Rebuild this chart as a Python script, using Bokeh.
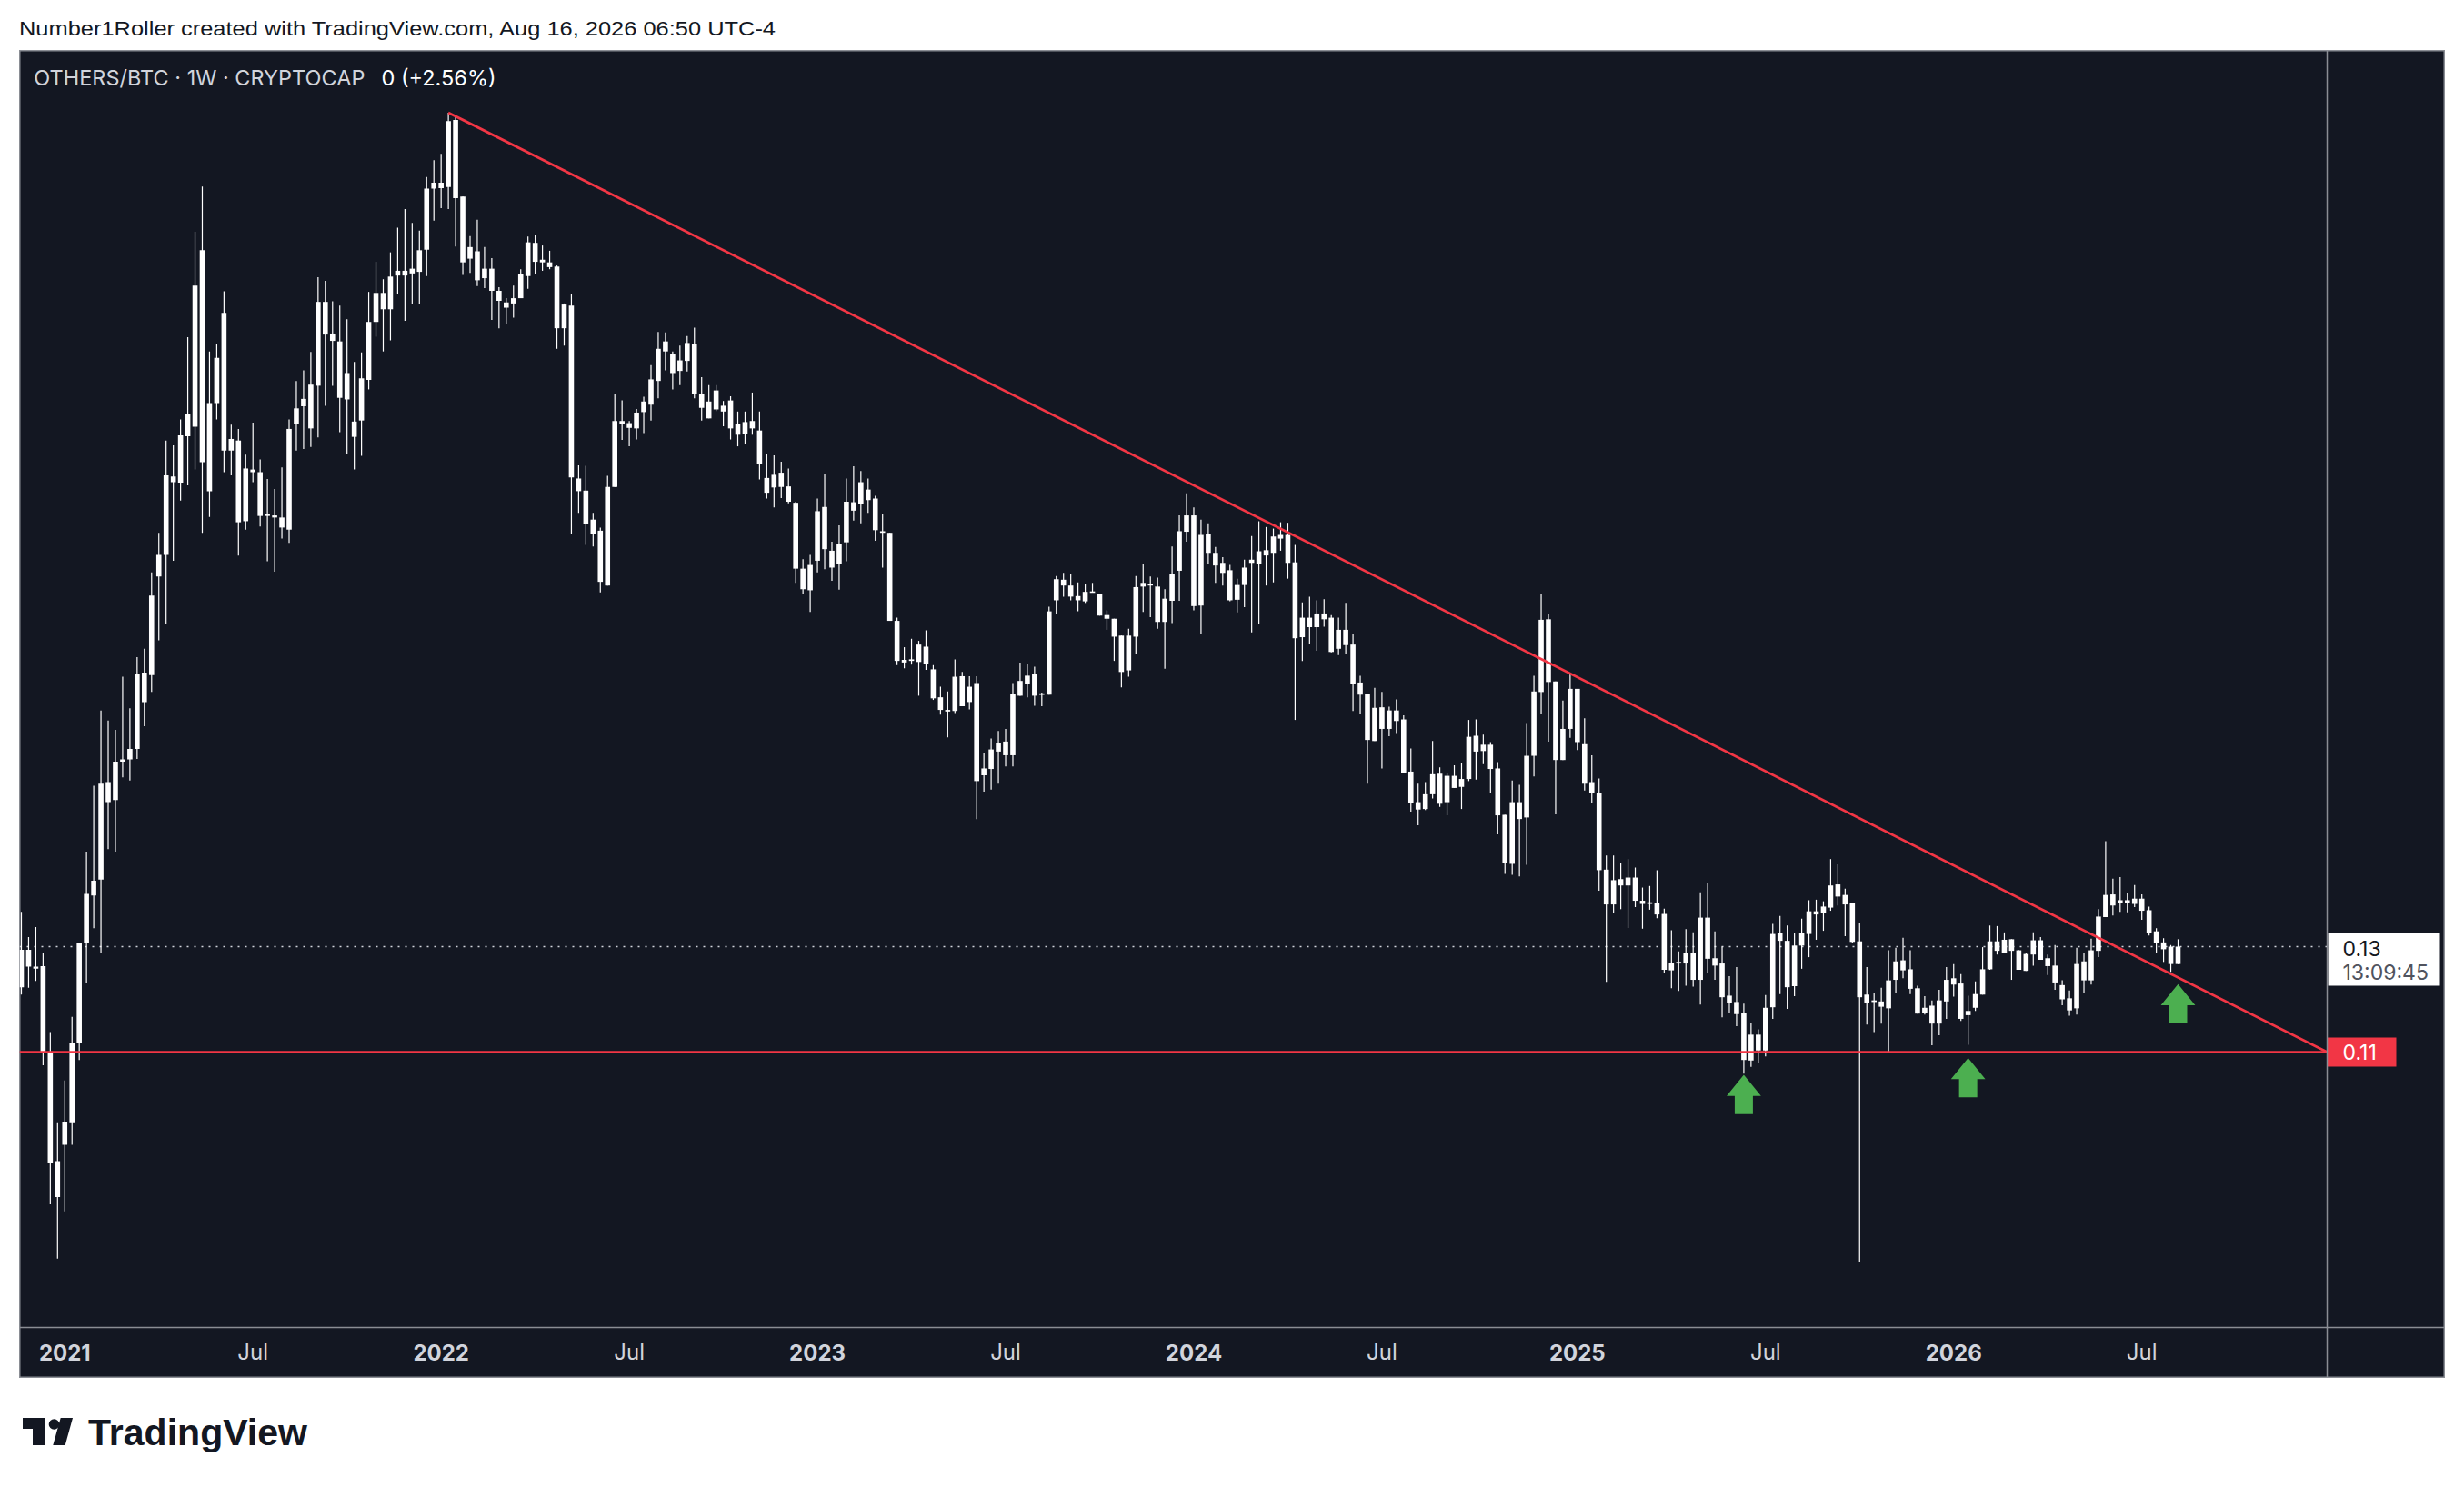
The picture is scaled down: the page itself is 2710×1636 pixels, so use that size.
import pandas as pd
from bokeh.plotting import figure
from bokeh.models import Range1d, Span, Div, ColumnDataSource
from bokeh.layouts import column
from bokeh.core.properties import value
from bokeh.embed import file_html
from bokeh.resources import INLINE

# ---------------- data (weekly OTHERS/BTC candles) ----------------
first_bar = "2020-11-23"

open_ = [
    .1223, .1294, .1262, .1263, .1098, .0893, .0924, .0967, .1118, .1306,
    .1397, .1427, .1612, .1578, .1651, .1655, .1675, .1820, .1815, .2002,
    .2043, .2192, .2180, .2268, .2286, .2621, .2164, .2331, .2502, .2241,
    .2260, .2107, .2205, .2200, .2117, .2118, .2114, .2091, .2291, .2325,
    .2366, .2364, .2523, .2463, .2448, .2338, .2296, .2298, .2375, .2485,
    .2540, .2509, .2573, .2582, .2577, .2580, .2622, .2738, .2749, .2741,
    .2868, .2723, .2605, .2619, .2568, .2586, .2544, .2522, .2520, .2530,
    .2572, .2635, .2598, .2598, .2590, .2473, .2516, .2188, .2165, .2110,
    .2089, .1985, .2172, .2297, .2293, .2283, .2314, .2328, .2373, .2429,
    .2424, .2392, .2411, .2444, .2349, .2334, .2319, .2326, .2336, .2291,
    .2272, .2297, .2279, .2189, .2171, .2199, .2173, .2142, .2017, .1976,
    .2032, .2134, .2051, .2025, .2067, .2143, .2140, .2167, .2150, .2088,
    .2085, .1918, .1844, .1842, .1840, .1869, .1826, .1773, .1749, .1747,
    .1813, .1764, .1800, .1625, .1637, .1670, .1689, .1663, .1776, .1798,
    .1817, .1778, .1778, .1957, .1996, .1985, .1965, .1955, .1973, .1969,
    .1929, .1922, .1890, .1824, .1888, .1983, .1988, .1983, .1916, .1956,
    .2013, .2087, .2118, .1947, .2083, .2047, .2028, .2014, .1958, .1986,
    .2028, .2026, .2042, .2047, .2074, .2081, .2029, .1887, .1924, .1906,
    .1932, .1924, .1865, .1901, .1873, .1801, .1779, .1690, .1754, .1713,
    .1748, .1731, .1632, .1574, .1561, .1589, .1628, .1574, .1624, .1603,
    .1618, .1700, .1671, .1683, .1638, .1550, .1457, .1574, .1545, .1662,
    .1783, .1921, .1803, .1654, .1713, .1789, .1684, .1612, .1592, .1446,
    .1380, .1428, .1416, .1431, .1387, .1381, .1382, .1362, .1255, .1268,
    .1268, .1288, .1237, .1355, .1278, .1268, .1207, .1195, .1174, .1084,
    .1133, .1103, .1185, .1326, .1311, .1225, .1302, .1324, .1367, .1363,
    .1374, .1418, .1398, .1382, .1310, .1209, .1195, .1196, .1183, .1237,
    .1274, .1257, .1221, .1175, .1188, .1154, .1196, .1240, .1230, .1170,
    .1184, .1209, .1257, .1310, .1288, .1314, .1293, .1254, .1285, .1312,
    .1278, .1264, .1227, .1202, .1183, .1272, .1236, .1292, .1356, .1399,
    .1382, .1388, .1381, .1391, .1369, .1329, .1308, .1300, .1267,
]

high = [
    .1366, .1318, .1337, .1289, .1138, .0967, .1046, .1167, .1306, .1480,
    .1605, .1748, .1729, .1711, .1812, .1752, .1849, .1865, .2010, .2085,
    .2260, .2251, .2300, .2456, .2656, .2742, .2429, .2444, .2543, .2290,
    .2282, .2233, .2294, .2224, .2187, .2168, .2209, .2300, .2373, .2393,
    .2428, .2570, .2563, .2524, .2516, .2490, .2409, .2427, .2542, .2599,
    .2566, .2617, .2664, .2699, .2673, .2658, .2760, .2792, .2804, .2882,
    .2876, .2723, .2648, .2679, .2627, .2606, .2551, .2530, .2554, .2585,
    .2647, .2651, .2630, .2620, .2592, .2520, .2538, .2213, .2212, .2123,
    .2095, .2193, .2348, .2336, .2297, .2320, .2343, .2403, .2466, .2465,
    .2429, .2440, .2458, .2474, .2380, .2365, .2365, .2335, .2344, .2315,
    .2315, .2351, .2315, .2235, .2232, .2220, .2207, .2144, .2035, .2043,
    .2150, .2196, .2068, .2099, .2188, .2211, .2202, .2188, .2155, .2120,
    .2085, .1924, .1868, .1884, .1880, .1900, .1834, .1793, .1784, .1845,
    .1821, .1813, .1813, .1667, .1695, .1709, .1713, .1800, .1839, .1836,
    .1831, .1782, .1945, .2003, .2009, .2007, .1991, .1988, .1990, .1969,
    .1938, .1922, .1890, .1903, .2003, .2025, .2002, .2000, .1978, .2059,
    .2118, .2160, .2133, .2110, .2103, .2058, .2039, .2024, .1998, .2034,
    .2079, .2107, .2096, .2093, .2105, .2104, .2062, .1953, .1964, .1957,
    .1959, .1929, .1924, .1952, .1893, .1814, .1779, .1791, .1783, .1755,
    .1769, .1739, .1676, .1609, .1612, .1690, .1640, .1630, .1644, .1648,
    .1730, .1731, .1702, .1688, .1650, .1550, .1615, .1607, .1724, .1814,
    .1969, .1931, .1803, .1767, .1817, .1789, .1733, .1663, .1619, .1473,
    .1473, .1458, .1466, .1450, .1412, .1415, .1445, .1372, .1331, .1291,
    .1333, .1327, .1403, .1421, .1329, .1300, .1244, .1261, .1192, .1156,
    .1143, .1208, .1343, .1358, .1340, .1325, .1353, .1388, .1389, .1386,
    .1466, .1456, .1410, .1382, .1344, .1261, .1211, .1222, .1293, .1298,
    .1317, .1293, .1226, .1206, .1198, .1218, .1261, .1267, .1248, .1207,
    .1234, .1299, .1340, .1339, .1327, .1314, .1293, .1288, .1327, .1318,
    .1285, .1303, .1236, .1217, .1298, .1287, .1315, .1371, .1500, .1429,
    .1432, .1401, .1417, .1399, .1376, .1335, .1316, .1303, .1314,
]

low = [
    .1209, .1222, .1235, .1075, .0811, .0708, .0798, .0924, .1085, .1232,
    .1335, .1289, .1485, .1480, .1621, .1615, .1656, .1718, .1783, .1881,
    .1912, .2032, .2146, .2175, .2205, .2085, .2115, .2300, .2200, .2194,
    .2042, .2091, .2181, .2097, .2031, .2011, .2074, .2066, .2241, .2244,
    .2248, .2266, .2326, .2364, .2276, .2235, .2205, .2231, .2357, .2457,
    .2429, .2450, .2538, .2487, .2520, .2518, .2572, .2677, .2701, .2699,
    .2628, .2574, .2578, .2553, .2549, .2489, .2473, .2482, .2493, .2530,
    .2548, .2576, .2582, .2585, .2434, .2440, .2083, .2123, .2062, .2059,
    .1972, .1985, .2172, .2261, .2249, .2262, .2274, .2298, .2340, .2393,
    .2357, .2365, .2391, .2340, .2298, .2302, .2316, .2287, .2262, .2249,
    .2253, .2271, .2186, .2150, .2133, .2151, .2141, .1990, .1970, .1935,
    .2010, .2016, .1994, .1977, .2031, .2108, .2103, .2123, .2070, .2019,
    .1918, .1834, .1828, .1835, .1776, .1825, .1768, .1740, .1697, .1743,
    .1756, .1750, .1542, .1594, .1598, .1609, .1642, .1642, .1776, .1773,
    .1757, .1756, .1778, .1930, .1964, .1957, .1936, .1952, .1972, .1928,
    .1901, .1842, .1792, .1812, .1856, .1935, .1925, .1903, .1827, .1914,
    .1956, .2068, .1938, .1894, .2026, .1990, .1985, .1955, .1934, .1944,
    .1896, .1912, .1985, .1991, .2051, .1998, .1730, .1842, .1875, .1861,
    .1907, .1858, .1853, .1856, .1747, .1741, .1609, .1690, .1638, .1699,
    .1705, .1630, .1556, .1530, .1559, .1581, .1565, .1549, .1601, .1561,
    .1614, .1617, .1646, .1591, .1513, .1438, .1436, .1433, .1455, .1623,
    .1741, .1689, .1551, .1654, .1696, .1673, .1596, .1573, .1406, .1233,
    .1363, .1371, .1335, .1375, .1334, .1370, .1354, .1250, .1221, .1216,
    .1226, .1224, .1190, .1251, .1237, .1166, .1175, .1149, .1059, .1072,
    .1080, .1092, .1163, .1210, .1182, .1206, .1258, .1280, .1313, .1330,
    .1368, .1378, .1320, .1306, .0702, .1152, .1138, .1154, .1101, .1213,
    .1240, .1210, .1173, .1171, .1113, .1132, .1163, .1205, .1159, .1114,
    .1178, .1209, .1256, .1285, .1288, .1237, .1256, .1254, .1264, .1275,
    .1246, .1218, .1189, .1169, .1171, .1213, .1228, .1280, .1356, .1359,
    .1366, .1365, .1375, .1351, .1321, .1287, .1271, .1252, .1267,
]

close = [
    .1294, .1262, .1258, .1100, .0889, .0825, .0968, .1118, .1306, .1400,
    .1425, .1609, .1574, .1651, .1655, .1675, .1817, .1764, .1966, .2043,
    .2194, .2181, .2270, .2311, .2554, .2219, .2331, .2417, .2241, .2263,
    .2105, .2207, .2200, .2117, .2121, .2114, .2095, .2282, .2321, .2339,
    .2283, .2523, .2461, .2449, .2341, .2388, .2267, .2378, .2485, .2540,
    .2509, .2571, .2582, .2573, .2586, .2621, .2738, .2749, .2739, .2866,
    .2720, .2598, .2627, .2564, .2586, .2544, .2525, .2512, .2530, .2575,
    .2636, .2599, .2603, .2589, .2473, .2518, .2190, .2164, .2101, .2083,
    .1992, .2172, .2297, .2291, .2284, .2313, .2334, .2376, .2434, .2448,
    .2388, .2412, .2445, .2349, .2322, .2302, .2355, .2315, .2283, .2271,
    .2295, .2283, .2215, .2161, .2195, .2172, .2144, .2017, .1978, .2024,
    .2126, .2054, .2019, .2064, .2144, .2127, .2181, .2147, .2090, .2085,
    .1918, .1842, .1839, .1845, .1873, .1837, .1771, .1749, .1746, .1812,
    .1756, .1793, .1614, .1638, .1674, .1686, .1663, .1780, .1804, .1814,
    .1776, .1780, .1936, .1997, .1985, .1964, .1957, .1973, .1972, .1928,
    .1922, .1888, .1821, .1890, .1982, .1990, .1985, .1916, .1960, .2006,
    .2088, .2118, .1946, .2081, .2047, .2023, .2009, .1957, .1986, .2019,
    .2034, .2050, .2052, .2078, .2081, .2028, .1885, .1924, .1906, .1932,
    .1921, .1859, .1901, .1872, .1799, .1778, .1692, .1753, .1713, .1748,
    .1728, .1630, .1572, .1560, .1589, .1627, .1571, .1624, .1601, .1618,
    .1698, .1670, .1683, .1637, .1549, .1459, .1574, .1542, .1662, .1784,
    .1920, .1802, .1654, .1713, .1789, .1688, .1609, .1591, .1445, .1380,
    .1426, .1416, .1431, .1387, .1381, .1384, .1361, .1256, .1269, .1271,
    .1288, .1237, .1355, .1277, .1264, .1204, .1194, .1172, .1085, .1133,
    .1103, .1184, .1324, .1311, .1223, .1302, .1325, .1367, .1361, .1376,
    .1416, .1395, .1380, .1309, .1204, .1194, .1198, .1186, .1236, .1272,
    .1255, .1220, .1173, .1184, .1154, .1198, .1237, .1228, .1163, .1178,
    .1210, .1257, .1310, .1292, .1313, .1292, .1256, .1286, .1312, .1275,
    .1263, .1232, .1200, .1179, .1267, .1236, .1293, .1357, .1398, .1378,
    .1388, .1382, .1391, .1368, .1326, .1307, .1295, .1267, .1300,
]

year_ticks = ["2021-01-04", "2022-01-03", "2023-01-02", "2024-01-01", "2025-01-06", "2026-01-05"]
year_labels = ["2021", "2022", "2023", "2024", "2025", "2026"]
month_ticks = ["2021-07-05", "2022-07-04", "2023-07-03", "2024-07-01", "2025-07-07", "2026-07-06"]
month_labels = ["Jul", "Jul", "Jul", "Jul", "Jul", "Jul"]

support_level = 0.11
trend_start_bar = 59
trend_start_price = 0.2882
trend_end_price = 0.11
arrow_bars = [238, 269, 298]
arrow_tips = [0.1057, 0.1089, 0.1229]
countdown = "13:09:45"
symbol_text = "OTHERS/BTC · 1W · CRYPTOCAP"
change_text = "0 (+2.56%)"
header_text = "Number1Roller created with TradingView.com, Aug 16, 2026 06:50 UTC-4"

# ---------------- scales / geometry ----------------
FRAME_W, FRAME_H = 2668, 1461
PX_PER_DAY = 1.1371
PX_PER_UNIT = 5800.0
DAY_MS = 86400000.0
TOP_PRICE = 0.30

dates = pd.date_range(first_bar, periods=len(close), freq="7D")
xs = (dates.asi8 // 10**6).astype(float)
x_left = xs[0] - 2.0 / PX_PER_DAY * DAY_MS
x_right = x_left + FRAME_W / PX_PER_DAY * DAY_MS
y_top = TOP_PRICE
y_bot = TOP_PRICE - FRAME_H / PX_PER_UNIT


def xpx(px):
    return x_left + px / PX_PER_DAY * DAY_MS


def ypx(py):
    return y_top - py / PX_PER_UNIT


x_sep = xpx(2538)
y_sep = ypx(1405)

min_h = 1.6 / PX_PER_UNIT
tops, bots = [], []
for o, c in zip(open_, close):
    t, b = max(o, c), min(o, c)
    if t - b < min_h:
        m = (t + b) / 2
        t, b = m + min_h / 2, m - min_h / 2
    tops.append(t)
    bots.append(b)

src = ColumnDataSource(dict(x=xs, high=high, low=low, top=tops, bottom=bots))

BG = "#131722"
FONT = value("Inter")
GREY = "#8a8d94"

p = figure(width=FRAME_W, height=FRAME_H, x_range=Range1d(x_left, x_right), y_range=Range1d(y_bot, y_top),
           x_axis_location=None, y_axis_location=None, min_border=0, toolbar_location=None,
           output_backend="svg", background_fill_color=BG, border_fill_color=BG,
           outline_line_color=GREY, outline_line_width=2, margin=(0, 0, 0, 21))
p.grid.visible = False

# separators of the price / time scales
p.add_layout(Span(location=x_sep, dimension="height", line_color=GREY, line_width=1.5))
p.add_layout(Span(location=y_sep, dimension="width", line_color=GREY, line_width=1.5))

# last price dotted line
last = close[-1]
p.segment(x0=[x_left], y0=[last], x1=[x_sep], y1=[last], line_color="#d1d4dc", line_width=1.5, line_dash="2 6")

# candles
body_w = 5.6 / PX_PER_DAY * DAY_MS
p.segment(x0="x", y0="high", x1="x", y1="low", source=src, line_color="#ffffff", line_width=1.2)
p.vbar(x="x", width=body_w, top="top", bottom="bottom", source=src, fill_color="#ffffff", line_color=None)

# red support line and down-trend line
RED = "#f23645"
p.segment(x0=[x_left, xs[trend_start_bar]], y0=[support_level, trend_start_price],
          x1=[x_sep, x_sep], y1=[support_level, trend_end_price], line_color=RED, line_width=2.7)

# green arrows
ARROW = [(0, 0), (18.9, 23.3), (10, 23.3), (10, 43.3), (-10, 43.3), (-10, 23.3), (-18.9, 23.3)]
axs = [[xs[b] + dx / PX_PER_DAY * DAY_MS for dx, dy in ARROW] for b in arrow_bars]
ays = [[t - dy / PX_PER_UNIT for dx, dy in ARROW] for t in arrow_tips]
p.patches(xs=axs, ys=ays, fill_color="#4caf50", line_color=None)

# legend
p.text(x=[xpx(15.8)], y=[ypx(30)], text=[symbol_text], text_font=FONT, text_font_size="23.5px",
       text_color="#d1d4dc", text_baseline="alphabetic", text_align="left")
p.text(x=[xpx(398)], y=[ypx(30)], text=[change_text], text_font=FONT, text_font_size="23.5px",
       text_color="#ffffff", text_baseline="alphabetic", text_align="left")

# time scale labels
yr_x = (pd.to_datetime(year_ticks).asi8 // 10**6).astype(float)
mo_x = (pd.to_datetime(month_ticks).asi8 // 10**6).astype(float)
p.text(x=yr_x, y=[ypx(1432)] * len(yr_x), text=year_labels, text_font=FONT, text_font_size="24px",
       text_font_style="bold", text_color="#d1d4dc", text_baseline="alphabetic", text_align="center")
p.text(x=mo_x, y=[ypx(1432)] * len(mo_x), text=month_labels, text_font=FONT, text_font_size="24px",
       text_color="#d1d4dc", text_baseline="alphabetic", text_align="center")

# price scale labels
p.quad(left=[xpx(2539)], right=[xpx(2662)], top=[last + 15 / PX_PER_UNIT], bottom=[last - 43 / PX_PER_UNIT],
       fill_color="#ffffff", line_color=None)
p.text(x=[xpx(2555)], y=[last], y_offset=2, text=[f"{last:.2f}"], text_font=FONT, text_font_size="23px",
       text_color="#131722", text_baseline="alphabetic", text_align="left")
p.text(x=[xpx(2555)], y=[last], y_offset=28, text=[countdown], text_font=FONT, text_font_size="23px",
       text_color="#50535e", text_baseline="alphabetic", text_align="left")
p.quad(left=[xpx(2538)], right=[xpx(2614)], top=[support_level + 16 / PX_PER_UNIT],
       bottom=[support_level - 16 / PX_PER_UNIT], fill_color=RED, line_color=None)
p.text(x=[xpx(2555)], y=[support_level], y_offset=0, text=[f"{support_level:.2f}"], text_font=FONT,
       text_font_size="23px", text_color="#ffffff", text_baseline="alphabetic", text_align="left")

# ---------------- header and footer ----------------
header = Div(width=2702, height=55, margin=0, text=(
    '<svg width="2702" height="55" style="display:block">'
    '<text x="21" y="39" font-family="Inter" font-size="22" fill="#131722" '
    'textLength="832" lengthAdjust="spacingAndGlyphs">' + header_text + '</text></svg>'))

logo = Div(width=2702, height=110, margin=0, text=(
    '<svg width="420" height="110" style="display:block">'
    '<rect x="25" y="44" width="25" height="12" fill="#131722"/>'
    '<rect x="36" y="44" width="14" height="30" fill="#131722"/>'
    '<circle cx="59.5" cy="51" r="5.8" fill="#131722"/>'
    '<polygon points="66.7,44 80,44 71.7,74 58.3,74" fill="#131722"/>'
    '<text x="97" y="74" font-family="Inter" font-weight="700" font-size="41" fill="#131722" '
    'textLength="241" lengthAdjust="spacingAndGlyphs">TradingView</text></svg>'))

layout = column(header, p, logo, spacing=0, margin=0)
open("out.html", "w").write(file_html(layout, INLINE))
